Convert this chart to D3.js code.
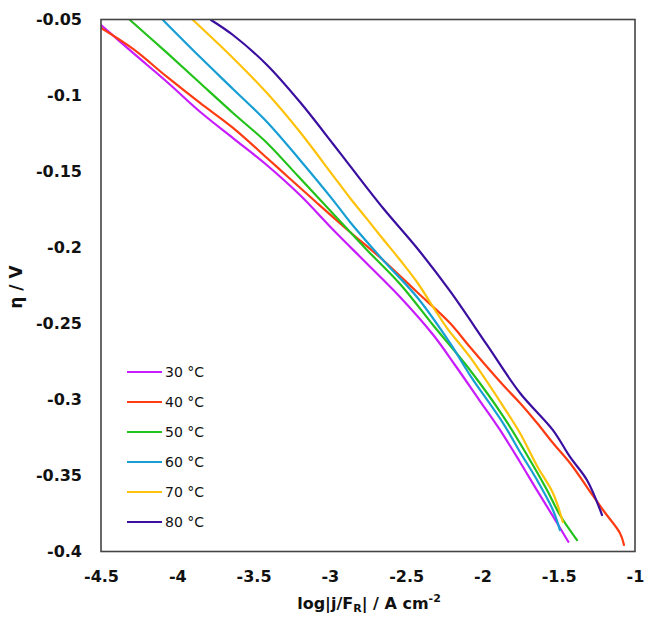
<!DOCTYPE html>
<html>
<head>
<meta charset="utf-8">
<script src="https://cdn.jsdelivr.net/npm/d3@7"></script>
<style>
  html, body { margin: 0; padding: 0; background: #fff; }
  svg { display: block; }
  text { font-family: "DejaVu Sans", sans-serif; }
</style>
</head>
<body>
<svg id="chart" width="645" height="618"></svg>
<script>
const xTicks = [-4.5, -4, -3.5, -3, -2.5, -2, -1.5, -1];
const yTicks = [-0.05, -0.1, -0.15, -0.2, -0.25, -0.3, -0.35, -0.4];
const seriesNames = ["30 °C", "40 °C", "50 °C", "60 °C", "70 °C", "80 °C"];
const seriesColors = ["#c81cff", "#ff3b12", "#22c21a", "#179fd4", "#ffc20a", "#3a0fa0"];

const s30 = [[-4.5,-0.0536],[-4.290,-0.0720],[-4.067,-0.0911],[-3.851,-0.1107],[-3.633,-0.1282],[-3.414,-0.1457],[-3.196,-0.1655],[-2.977,-0.1885],[-2.759,-0.2104],[-2.540,-0.2326],[-2.322,-0.2576],[-2.180,-0.2773],[-2.016,-0.3010],[-1.885,-0.3200],[-1.754,-0.3411],[-1.644,-0.3595],[-1.536,-0.3771],[-1.437,-0.3936]];
const s40 = [[-4.5,-0.0556],[-4.290,-0.0694],[-4.067,-0.0878],[-3.851,-0.1049],[-3.635,-0.1213],[-3.412,-0.1411],[-3.274,-0.1536],[-3.084,-0.1707],[-2.868,-0.1898],[-2.652,-0.2082],[-2.429,-0.2293],[-2.213,-0.2497],[-2.082,-0.2655],[-1.865,-0.2905],[-1.754,-0.3023],[-1.642,-0.3155],[-1.538,-0.3286],[-1.426,-0.3418],[-1.315,-0.3576],[-1.210,-0.3727],[-1.099,-0.3878],[-1.072,-0.3957]];
const s50 = [[-4.310,-0.0503],[-4.067,-0.0720],[-3.851,-0.0918],[-3.635,-0.1115],[-3.412,-0.1312],[-3.209,-0.1530],[-2.953,-0.1806],[-2.757,-0.2016],[-2.540,-0.2240],[-2.324,-0.2510],[-2.082,-0.2806],[-1.865,-0.3109],[-1.708,-0.3365],[-1.577,-0.3595],[-1.492,-0.3760],[-1.380,-0.3925]];
const s60 = [[-4.094,-0.0503],[-3.851,-0.0747],[-3.635,-0.0957],[-3.412,-0.1174],[-3.196,-0.1424],[-2.979,-0.1688],[-2.868,-0.1832],[-2.652,-0.2082],[-2.429,-0.2326],[-2.213,-0.2628],[-2.082,-0.2839],[-1.865,-0.3155],[-1.754,-0.3345],[-1.642,-0.3530],[-1.538,-0.3727],[-1.492,-0.3859]];
const s70 = [[-3.897,-0.0503],[-3.635,-0.0753],[-3.412,-0.0984],[-3.196,-0.1240],[-2.979,-0.1527],[-2.868,-0.1674],[-2.757,-0.1812],[-2.652,-0.1944],[-2.540,-0.2082],[-2.429,-0.2227],[-2.298,-0.2431],[-2.232,-0.2530],[-2.082,-0.2720],[-1.865,-0.3043],[-1.754,-0.3220],[-1.642,-0.3437],[-1.538,-0.3615],[-1.473,-0.3806]];
const s80 = [[-3.779,-0.0503],[-3.635,-0.0602],[-3.412,-0.0799],[-3.196,-0.1043],[-2.979,-0.1319],[-2.868,-0.1463],[-2.652,-0.1740],[-2.429,-0.2003],[-2.213,-0.2286],[-1.970,-0.2641],[-1.754,-0.2957],[-1.538,-0.3201],[-1.426,-0.3378],[-1.315,-0.3530],[-1.216,-0.3760]];
const seriesData = [s30, s40, s50, s60, s70, s80];

const svg = d3.select("#chart");
const L = 101, R = 635, T = 19.5, B = 551.5;
const x = d3.scaleLinear().domain([-4.5, -1]).range([L, R]);
const y = d3.scaleLinear().domain([-0.05, -0.4]).range([T, B]);
const fmt = d => String(d);

// axes (labels only)
const xAxis = svg.append("g").attr("transform", `translate(0,${B})`)
  .call(d3.axisBottom(x).tickValues(xTicks).tickSize(0).tickPadding(19).tickFormat(fmt));
const yAxis = svg.append("g").attr("transform", `translate(${L},0)`)
  .call(d3.axisLeft(y).tickValues(yTicks).tickSize(0).tickPadding(19).tickFormat(fmt));
[xAxis, yAxis].forEach(g => {
  g.select(".domain").remove();
  g.selectAll("text").attr("font-family", "DejaVu Sans, sans-serif").attr("font-size", 16)
    .attr("font-weight", 700).attr("fill", "#111");
});

// series
const line = d3.line().x(d => x(d[0])).y(d => y(d[1])).curve(d3.curveCatmullRom.alpha(0.5));
const clip = svg.append("clipPath").attr("id", "clip").append("rect")
  .attr("x", L).attr("y", T).attr("width", R - L).attr("height", B - T);
svg.append("g").attr("clip-path", "url(#clip)")
  .selectAll("path").data(seriesData).join("path")
  .attr("d", line).attr("fill", "none")
  .attr("stroke", (d, i) => seriesColors[i]).attr("stroke-width", 2.2)
  .attr("stroke-linejoin", "round").attr("stroke-linecap", "round");

// frame
svg.append("rect").attr("x", L).attr("y", T).attr("width", R - L).attr("height", B - T)
  .attr("fill", "none").attr("stroke", "#444").attr("stroke-width", 1.6);

// legend
const lg = svg.append("g");
seriesNames.forEach((name, i) => {
  const yy = 372 + i * 30;
  lg.append("line").attr("x1", 127).attr("x2", 162).attr("y1", yy).attr("y2", yy)
    .attr("stroke", seriesColors[i]).attr("stroke-width", 2.2);
  lg.append("text").attr("x", 165).attr("y", yy).attr("dy", "0.36em")
    .attr("font-size", 14).attr("fill", "#111").text(name);
});

// axis titles
const xt = svg.append("text").attr("x", 369).attr("y", 609).attr("text-anchor", "middle")
  .attr("font-size", 16).attr("font-weight", 700).attr("fill", "#111");
xt.append("tspan").text("log|j/F");
xt.append("tspan").attr("font-size", 11).attr("dy", 3).text("R");
xt.append("tspan").attr("dy", -3).text("| / A cm");
xt.append("tspan").attr("font-size", 11).attr("dy", -7).text("-2");

svg.append("text").attr("transform", "translate(22,287) rotate(-90)")
  .attr("text-anchor", "middle").attr("font-size", 17).attr("font-weight", 700)
  .attr("fill", "#111").text("η / V");
</script>
</body>
</html>
